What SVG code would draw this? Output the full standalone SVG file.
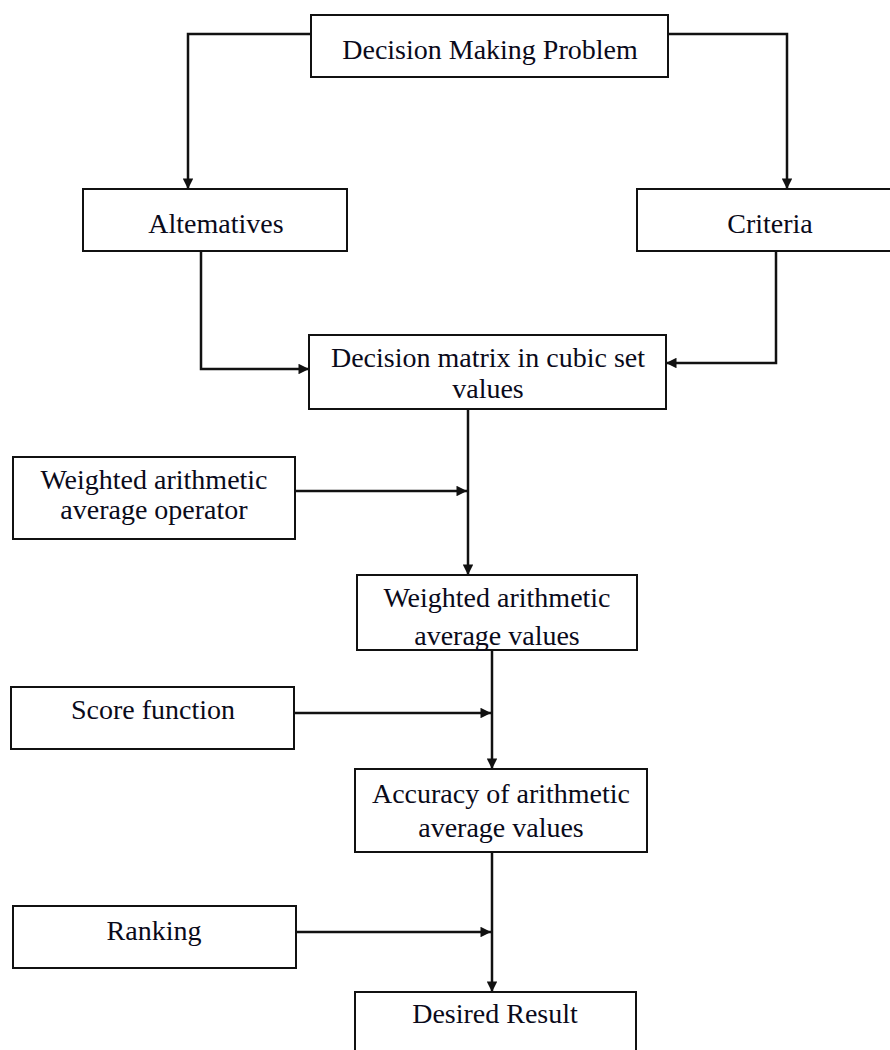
<svg xmlns="http://www.w3.org/2000/svg" width="890" height="1050" viewBox="0 0 890 1050">
<style>
.box{fill:#fff;stroke:#111;stroke-width:2}
.t{font-family:"Liberation Serif","Times New Roman",serif;font-size:28px;fill:#0a0a1a;text-anchor:middle}
.c{fill:none;stroke:#111;stroke-width:2.5}
</style>
<defs>
<marker id="ah" viewBox="0 0 10 10" refX="10" refY="5" markerWidth="4.6" markerHeight="4.2" orient="auto" markerUnits="strokeWidth">
<path d="M0,0 L10,5 L0,10 z" fill="#111"/>
</marker>
</defs>
<rect width="890" height="1050" fill="#fff"/>
<g id="connectors">
<path class="c" d="M311,34 H188 V189" marker-end="url(#ah)"/>
<path class="c" d="M668,34 H787 V189" marker-end="url(#ah)"/>
<path class="c" d="M201,251 V369 H309" marker-end="url(#ah)"/>
<path class="c" d="M776,251 V363 H666" marker-end="url(#ah)"/>
<path class="c" d="M468,409 V575" marker-end="url(#ah)"/>
<path class="c" d="M295,491 H467" marker-end="url(#ah)"/>
<path class="c" d="M492,650 V769" marker-end="url(#ah)"/>
<path class="c" d="M294,713 H491" marker-end="url(#ah)"/>
<path class="c" d="M492,852 V992" marker-end="url(#ah)"/>
<path class="c" d="M296,932 H491" marker-end="url(#ah)"/>
</g>
<g id="n-problem"><rect class="box" x="311" y="15" width="357" height="62"/><text class="t" x="490" y="59">Decision Making Problem</text></g>
<g id="n-alternatives"><rect class="box" x="83" y="189" width="264" height="62"/><text class="t" x="216" y="233">Altematives</text></g>
<g id="n-criteria"><rect class="box" x="637" y="189" width="266" height="62"/><text class="t" x="770" y="233">Criteria</text></g>
<g id="n-matrix"><rect class="box" x="309" y="335" width="357" height="74"/><text class="t" x="488" y="367">Decision matrix in cubic set</text><text class="t" x="488" y="398">values</text></g>
<g id="n-operator"><rect class="box" x="13" y="457" width="282" height="82"/><text class="t" x="154" y="489">Weighted arithmetic</text><text class="t" x="154" y="519">average operator</text></g>
<g id="n-wav"><rect class="box" x="357" y="575" width="280" height="75"/><text class="t" x="497" y="607">Weighted arithmetic</text><text class="t" x="497" y="645">average values</text></g>
<g id="n-score"><rect class="box" x="11" y="687" width="283" height="62"/><text class="t" x="153" y="719">Score function</text></g>
<g id="n-accuracy"><rect class="box" x="355" y="769" width="292" height="83"/><text class="t" x="501" y="803">Accuracy of arithmetic</text><text class="t" x="501" y="837">average values</text></g>
<g id="n-ranking"><rect class="box" x="13" y="906" width="283" height="62"/><text class="t" x="154" y="940">Ranking</text></g>
<g id="n-result"><rect class="box" x="355" y="992" width="281" height="70"/><text class="t" x="495" y="1023">Desired Result</text></g>
</svg>
